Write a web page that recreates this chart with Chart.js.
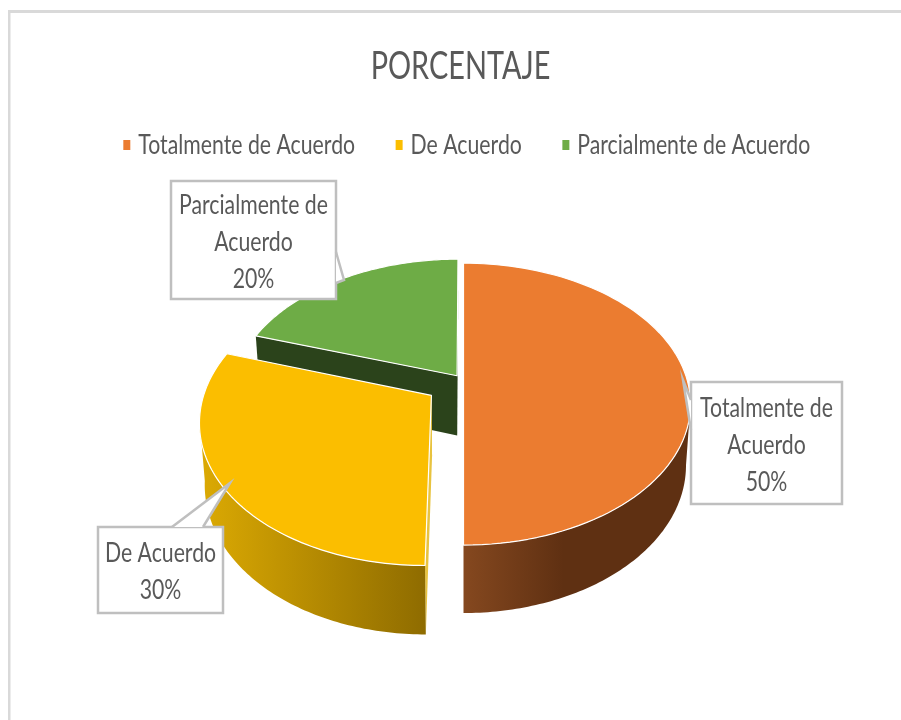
<!DOCTYPE html>
<html><head><meta charset="utf-8">
<style>html,body{margin:0;padding:0;background:#fff}canvas{display:block;filter:blur(0.4px)}</style>
<script src="https://cdn.jsdelivr.net/npm/chart.js@4"></script></head>
<body><canvas id="c" width="901" height="720"></canvas>
<script>
const titleText = 'PORCENTAJE';
const categories = ['Totalmente de Acuerdo','De Acuerdo','Parcialmente de Acuerdo'];
const values = [50,30,20];
const explode = [0,39,11];
const topColors = ['#EB7C30','#FBBE00','#6EAC46'];
const edgeColors = ['#7a4019','#e8c33f','#2b431b'];
const wallStops = [['#85481f','#5f3012'],['#dcaa03','#8f6c00'],['#2b431b','#2b431b']];
const FONT = 'Lato,"Open Sans",sans-serif';
const TEXT = '#595959';
const LINE = '#bfbfbf';
const textSqueeze = 0.787, titleSqueeze = 0.74;
const calloutBoxes = [
  {i:0,x:691,y:382,w:151,h:122,tail:[[691,430],[683,380],[691,400]]},
  {i:1,x:98,y:527,w:125,h:86,tail:[[203,527],[230,483],[172,527]]},
  {i:2,x:171,y:181,w:165,h:118,tail:[[336,252],[344,280],[336,283]]}
];
const tilt=0.6125, persp=0.163, depthBase=60, bottomShrink=0.98;

function legendMark(color){
  const cv=document.createElement('canvas');cv.width=15;cv.height=10;
  const g=cv.getContext('2d');g.fillStyle=color;g.fillRect(7,0,7,10);return cv;
}
function proj(el,theta,off,mid,r,down){
  const R=el.outerRadius;
  const X=r*Math.cos(theta)+off*Math.cos(mid), Y=r*Math.sin(theta)+off*Math.sin(mid);
  const u=X/R,v=Y/R,w=1-persp*v;
  const d=down?depthBase/Math.pow(w,0.7):0, s=down?bottomShrink:1;
  return [el.x+s*R*u/w, el.y+tilt*R*v/w+d];
}
function poly(ctx,pts){ctx.beginPath();pts.forEach((p,i)=>i?ctx.lineTo(p[0],p[1]):ctx.moveTo(p[0],p[1]));ctx.closePath();}
function arcPts(el,a0,a1,off,mid,down){
  const out=[],n=90;for(let i=0;i<=n;i++){out.push(proj(el,a0+(a1-a0)*i/n,off,mid,el.outerRadius,down));}return out;
}
function nudge(box,dx){
  const d=box.draw;
  box.draw=function(a){const c=this.ctx;c.save();c.translate(dx,0);d.call(this,a);c.restore();};
}
const pie3d={
  id:'pie3d',
  afterInit(chart){nudge(chart.titleBlock,-3);nudge(chart.legend,3);},
  beforeDraw(chart){
    const c=chart.ctx;c.save();c.fillStyle='#fff';c.fillRect(0,0,901,720);
    c.fillStyle='#d9d9d9';c.fillRect(8,10,893,3);c.fillRect(8,10,2.5,710);c.restore();
  },
  beforeDatasetDraw(chart){
    const c=chart.ctx,arcs=chart.getDatasetMeta(0).data;
    c.save();
    [2,0,1].forEach(i=>{
      const el=arcs[i],off=el.options.offset||0,a0=el.startAngle,a1=el.endAngle,mid=(a0+a1)/2;
      const apex=proj(el,0,off,mid,0,false),apexD=proj(el,0,off,mid,0,true);
      [a0,a1].forEach(a=>{
        const rim=proj(el,a,off,mid,el.outerRadius,false),rimD=proj(el,a,off,mid,el.outerRadius,true);
        c.fillStyle=edgeColors[i];poly(c,[apex,rim,rimD,apexD]);c.fill();
      });
      const lo=Math.max(a0,Math.asin(persp)),hi=Math.min(a1,Math.PI-Math.asin(persp));
      if(hi>lo){
        const t=arcPts(el,lo,hi,off,mid,false),b=arcPts(el,lo,hi,off,mid,true).reverse();
        const xs=t.map(p=>p[0]);
        let g;
        if(i===0){g=c.createLinearGradient(el.x,0,el.x+100,0);g.addColorStop(0,wallStops[i][0]);g.addColorStop(1,wallStops[i][1]);}
        else{g=c.createLinearGradient(Math.min(...xs),0,Math.max(...xs),0);g.addColorStop(0,wallStops[i][0]);g.addColorStop(1,wallStops[i][1]);}
        c.fillStyle=g;poly(c,t.concat(b));c.fill();
      }
      const top=[apex].concat(arcPts(el,a0,a1,off,mid,false));
      poly(c,top);c.fillStyle=el.options.backgroundColor;c.fill();
      c.strokeStyle=el.options.borderColor;c.lineWidth=el.options.borderWidth;c.lineJoin='round';c.stroke();
    });
    c.restore();
    return false;
  },
  afterDraw(chart){
    const c=chart.ctx;
    const total=values.reduce((a,b)=>a+b,0);
    c.save();
    calloutBoxes.forEach(b=>{
      const path=[[b.x,b.y],[b.x+b.w,b.y],[b.x+b.w,b.y+b.h],[b.x,b.y+b.h]];
      c.fillStyle='#fff';c.strokeStyle=LINE;c.lineWidth=2.5;c.lineJoin='miter';
      poly(c,path);c.fill();c.stroke();
      c.beginPath();b.tail.forEach((p,i)=>i?c.lineTo(p[0],p[1]):c.moveTo(p[0],p[1]));c.closePath();c.fill();
      c.beginPath();b.tail.forEach((p,i)=>i?c.lineTo(p[0],p[1]):c.moveTo(p[0],p[1]));c.stroke();
      c.font='27px '+FONT;
      const words=categories[b.i].split(' ');const lines=[];let cur='';
      words.forEach(w=>{const t=cur?cur+' '+w:w;if(c.measureText(t).width>b.w-8&&cur){lines.push(cur);cur=w;}else cur=t;});
      lines.push(cur);lines.push(Math.round(values[b.i]/total*100)+'%');
      c.fillStyle=TEXT;c.textAlign='center';c.textBaseline='middle';
      const lh=37,y0=b.y+b.h/2+2-(lines.length-1)*lh/2;
      lines.forEach((l,i)=>c.fillText(l,b.x+b.w/2,y0+i*lh));
    });
    c.restore();
  }
};
// The reference text is horizontally condensed: squeeze every string drawn on this canvas.
const canvasEl=document.getElementById('c');
const ctx2d=canvasEl.getContext('2d');
const rawFill=ctx2d.fillText.bind(ctx2d), rawMeasure=ctx2d.measureText.bind(ctx2d);
const squeezeNow=()=>parseFloat(ctx2d.font.match(/([\d.]+)px/)[1])>30?titleSqueeze:textSqueeze;
ctx2d.fillText=function(t,x,y,m){const s=squeezeNow();ctx2d.save();ctx2d.translate(x,y);ctx2d.scale(s,1);rawFill(t,0,0);ctx2d.restore();};
ctx2d.measureText=function(t){const r=rawMeasure(t);return {width:r.width*squeezeNow(),actualBoundingBoxAscent:r.actualBoundingBoxAscent,actualBoundingBoxDescent:r.actualBoundingBoxDescent};};
new Chart(canvasEl,{
  type:'pie',
  data:{labels:categories,datasets:[{data:values,backgroundColor:topColors,borderColor:'#ffffff',borderWidth:1.2,offset:explode,radius:224}]},
  options:{
    responsive:false,animation:false,devicePixelRatio:1,
    layout:{padding:{left:26,right:0,top:0,bottom:126.5}},
    plugins:{
      tooltip:{enabled:false},
      title:{display:true,text:titleText,color:TEXT,font:{family:FONT,size:39,weight:'normal'},padding:{top:43,bottom:2}},
      legend:{position:'top',labels:{color:TEXT,font:{family:FONT,size:27},usePointStyle:true,pointStyleWidth:2,boxHeight:10,padding:40,
        generateLabels(chart){return categories.map((t,i)=>({text:t,fillStyle:topColors[i],strokeStyle:topColors[i],lineWidth:0,pointStyle:legendMark(topColors[i]),hidden:false,index:i,fontColor:TEXT}));}}}
    }
  },
  plugins:[pie3d]
});
</script></body></html>
